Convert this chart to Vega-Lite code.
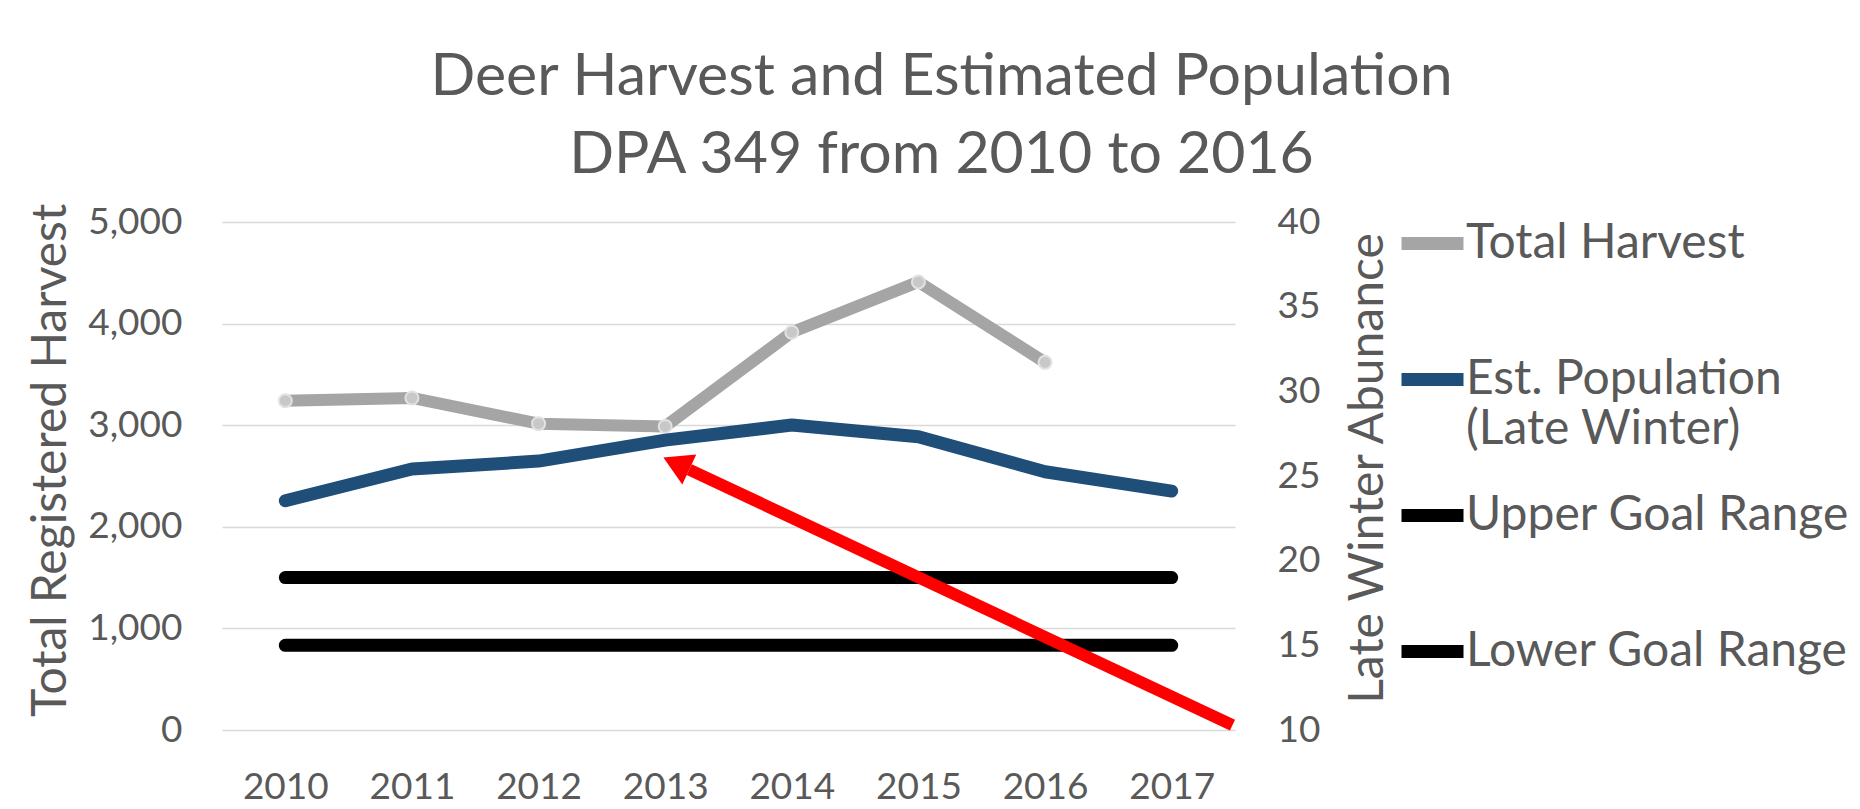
{
  "$schema": "https://vega.github.io/schema/vega-lite/v6.json",
  "width": 1013,
  "height": 508,
  "autosize": {"type": "none"},
  "padding": {"left": 222, "top": 222, "right": 625, "bottom": 79},
  "background": "white",
  "config": {
    "font": "Lato",
    "view": {"stroke": null},
    "axis": {"labelFont": "Lato", "titleFont": "Lato", "labelColor": "#595959", "titleColor": "#595959", "titleFontWeight": "normal", "ticks": false, "domain": false}
  },
  "title": {
    "text": ["Deer Harvest and Estimated Population", "DPA 349 from 2010 to 2016"],
    "font": "Lato", "fontSize": 59, "fontWeight": "normal", "color": "#595959",
    "anchor": "middle", "frame": "group", "dx": 213, "offset": 18, "lineHeight": 78
  },
  "datasets": {
    "harvest": [
      {"year": 2010, "series": "Total Harvest", "value": 3241},
      {"year": 2011, "series": "Total Harvest", "value": 3268},
      {"year": 2012, "series": "Total Harvest", "value": 3015},
      {"year": 2013, "series": "Total Harvest", "value": 2988},
      {"year": 2014, "series": "Total Harvest", "value": 3915},
      {"year": 2015, "series": "Total Harvest", "value": 4410},
      {"year": 2016, "series": "Total Harvest", "value": 3619}
    ],
    "right": [
      {"year": 2010, "series": "Est. Population (Late Winter)", "value": 23.54},
      {"year": 2011, "series": "Est. Population (Late Winter)", "value": 25.41},
      {"year": 2012, "series": "Est. Population (Late Winter)", "value": 25.88},
      {"year": 2013, "series": "Est. Population (Late Winter)", "value": 27.12},
      {"year": 2014, "series": "Est. Population (Late Winter)", "value": 28.01},
      {"year": 2015, "series": "Est. Population (Late Winter)", "value": 27.32},
      {"year": 2016, "series": "Est. Population (Late Winter)", "value": 25.25},
      {"year": 2017, "series": "Est. Population (Late Winter)", "value": 24.11},
      {"year": 2010, "series": "Upper Goal Range", "value": 19},
      {"year": 2011, "series": "Upper Goal Range", "value": 19},
      {"year": 2012, "series": "Upper Goal Range", "value": 19},
      {"year": 2013, "series": "Upper Goal Range", "value": 19},
      {"year": 2014, "series": "Upper Goal Range", "value": 19},
      {"year": 2015, "series": "Upper Goal Range", "value": 19},
      {"year": 2016, "series": "Upper Goal Range", "value": 19},
      {"year": 2017, "series": "Upper Goal Range", "value": 19},
      {"year": 2010, "series": "Lower Goal Range", "value": 15},
      {"year": 2011, "series": "Lower Goal Range", "value": 15},
      {"year": 2012, "series": "Lower Goal Range", "value": 15},
      {"year": 2013, "series": "Lower Goal Range", "value": 15},
      {"year": 2014, "series": "Lower Goal Range", "value": 15},
      {"year": 2015, "series": "Lower Goal Range", "value": 15},
      {"year": 2016, "series": "Lower Goal Range", "value": 15},
      {"year": 2017, "series": "Lower Goal Range", "value": 15}
    ],
    "arrow": [
      {"x1": 2017.48, "y1": 10.29, "x2": 2013.19, "y2": 25.38}
    ],
    "head": [
      {"x": 2013.088, "y": 25.74}
    ]
  },
  "layer": [
    {
      "data": {"name": "harvest"},
      "mark": {"type": "line", "strokeWidth": 12, "strokeCap": "round", "strokeJoin": "round"},
      "encoding": {
        "x": {"field": "year", "type": "ordinal", "scale": {"domain": [2010, 2011, 2012, 2013, 2014, 2015, 2016, 2017], "paddingInner": 0, "paddingOuter": 0},
              "axis": {"title": null, "labelAngle": 0, "labelFontSize": 37, "labelPadding": 57, "labelBaseline": "middle", "grid": false}},
        "y": {"field": "value", "type": "quantitative", "scale": {"domain": [0, 5000]},
              "axis": {"orient": "left", "values": [0, 1000, 2000, 3000, 4000, 5000], "format": ",d", "labelFontSize": 37, "labelPadding": 40, "grid": true, "gridColor": "#D9D9D9", "gridWidth": 1.5,
                       "title": "Total Registered Harvest", "titleFontSize": 48, "titleBaseline": "alphabetic", "titleX": -157, "titleY": 238}},
        "color": {"field": "series", "type": "nominal",
                  "scale": {"domain": ["Total Harvest", "Est. Population (Late Winter)", "Upper Goal Range", "Lower Goal Range"], "range": ["#A5A5A5", "#1F4E79", "#000000", "#000000"]},
                  "legend": {"title": null, "orient": "none", "legendX": 1173, "legendY": -16, "symbolType": "stroke", "symbolStrokeWidth": 13, "symbolSize": 3844,
                             "labelFont": "Lato", "labelFontSize": 48, "labelColor": "#595959", "labelOffset": -4, "labelLimit": 0, "rowPadding": 24, "padding": 0,
                             "labelExpr": "datum.label == 'Est. Population (Late Winter)' ? ['Est. Population', '(Late Winter)'] : [datum.label, '']"}}
      }
    },
    {
      "data": {"name": "harvest"},
      "mark": {"type": "point", "shape": "circle", "filled": true, "size": 170, "fill": "#C8C8C8", "stroke": "#E2E2E2", "strokeWidth": 2, "opacity": 1},
      "encoding": {
        "x": {"field": "year", "type": "ordinal", "scale": {"domain": [2010, 2011, 2012, 2013, 2014, 2015, 2016, 2017], "paddingInner": 0, "paddingOuter": 0}, "axis": null},
        "y": {"field": "value", "type": "quantitative", "scale": {"domain": [0, 5000]}, "axis": null}
      }
    },
    {
      "data": {"name": "right"},
      "mark": {"type": "line", "strokeWidth": 13, "strokeCap": "round", "strokeJoin": "round"},
      "encoding": {
        "x": {"field": "year", "type": "ordinal", "scale": {"domain": [2010, 2011, 2012, 2013, 2014, 2015, 2016, 2017], "paddingInner": 0, "paddingOuter": 0}, "axis": null},
        "y": {"field": "value", "type": "quantitative", "scale": {"domain": [10, 40]},
              "axis": {"orient": "right", "values": [10, 15, 20, 25, 30, 35, 40], "labelFontSize": 37, "labelPadding": 42, "grid": false,
                       "title": "Late Winter Abunance", "titleFontSize": 48, "titleAngle": 270, "titleBaseline": "alphabetic", "titleX": 147, "titleY": 246}},
        "color": {"field": "series", "type": "nominal"},
        "detail": {"field": "series"}
      }
    },
    {
      "data": {"name": "arrow"},
      "mark": {"type": "rule", "color": "#FF0000", "strokeWidth": 12, "strokeCap": "butt"},
      "encoding": {
        "x": {"field": "x1", "type": "quantitative", "scale": {"domain": [2009.5, 2017.5], "nice": false, "zero": false}, "axis": null},
        "x2": {"field": "x2"},
        "y": {"field": "y1", "type": "quantitative", "scale": {"domain": [10, 40], "nice": false, "zero": false}, "axis": null},
        "y2": {"field": "y2"}
      }
    },
    {
      "data": {"name": "head"},
      "mark": {"type": "point", "shape": "triangle-up", "filled": true, "size": 1089, "color": "#FF0000", "opacity": 1, "angle": 295},
      "encoding": {
        "x": {"field": "x", "type": "quantitative", "scale": {"domain": [2009.5, 2017.5], "nice": false, "zero": false}, "axis": null},
        "y": {"field": "y", "type": "quantitative", "scale": {"domain": [10, 40], "nice": false, "zero": false}, "axis": null}
      }
    }
  ],
  "resolve": {"scale": {"x": "independent", "y": "independent"}}
}
